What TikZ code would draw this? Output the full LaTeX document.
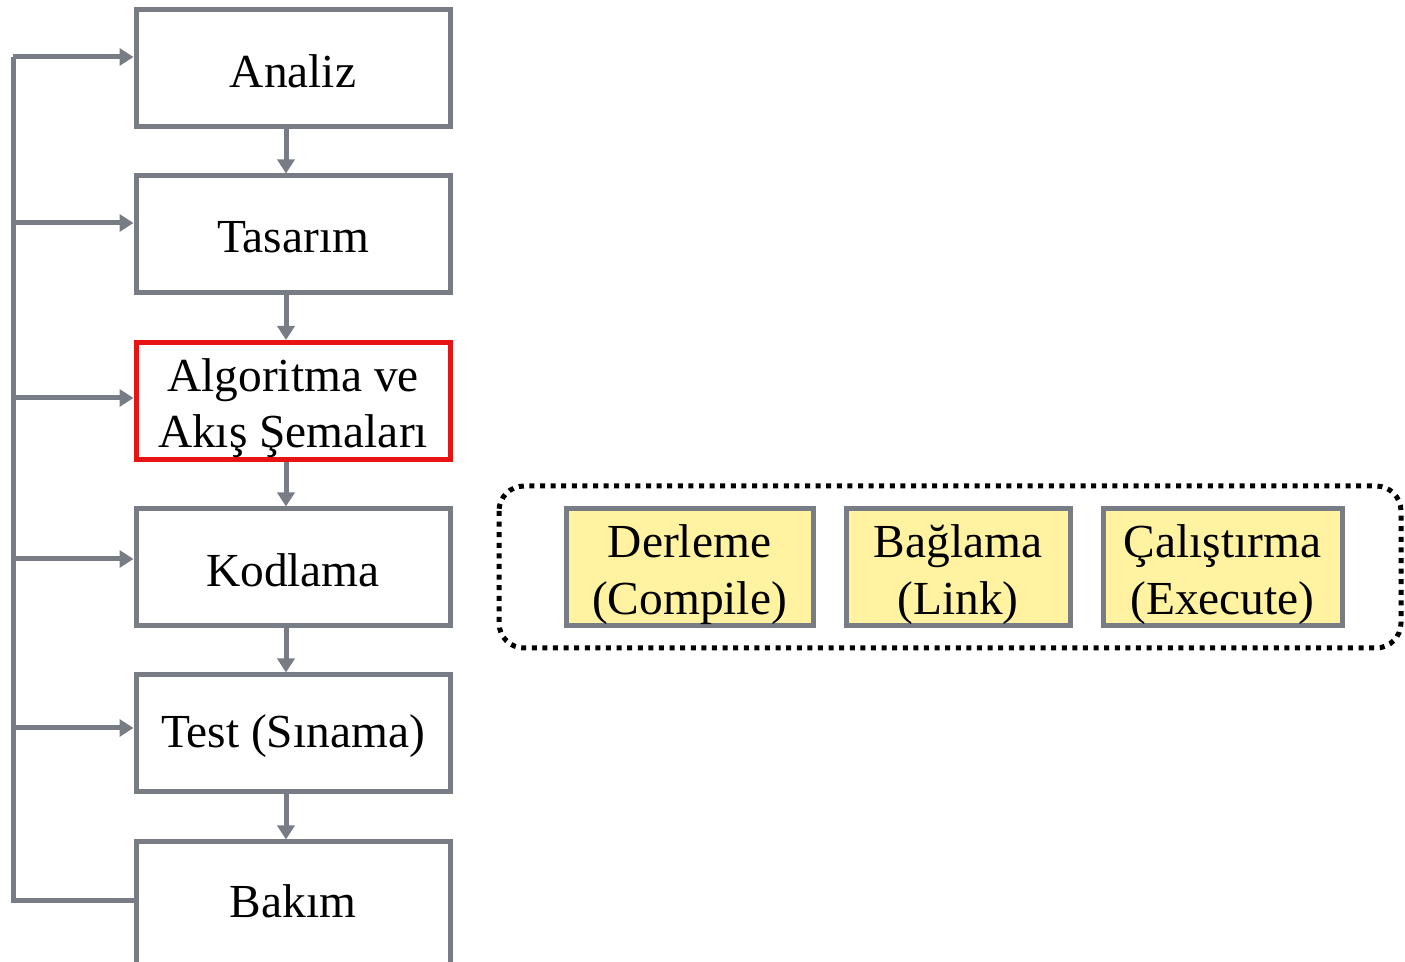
\documentclass[tikz,border=0pt]{standalone}
\usepackage{fontspec}
\setmainfont{Liberation Serif}
\usetikzlibrary{arrows.meta}
\definecolor{lgray}{RGB}{120,124,132}
\definecolor{lyellow}{RGB}{255,242,160}
\definecolor{lred}{RGB}{232,20,20}
\tikzset{
  stepbox/.style={draw=lgray, line width=2.5pt, fill=white, minimum width=157pt, minimum height=58.5pt, inner sep=0pt},
  ybox/.style={draw=lgray, line width=2.5pt, fill=lyellow, minimum height=58.5pt, inner sep=0pt},
  txt/.style={inner sep=0pt, align=center, font=\fontsize{23.7}{28.3}\selectfont},
  arr/.style={draw=lgray, line width=2.5pt, -{Triangle[length=7pt,width=8.5pt]}},
  fbline/.style={draw=lgray, line width=2.5pt}
}
\begin{document}
\begin{tikzpicture}[x=0.5pt,y=-0.5pt]
\useasboundingbox (0,0) rectangle (1405,962);
\node[stepbox] (ana) at (293,68.5) {};
\node[stepbox] (tas) at (293,234.5) {};
\node[stepbox, draw=lred] (alg) at (293,401) {};
\node[stepbox] (kod) at (293,567.5) {};
\node[stepbox] (tst) at (293,733.5) {};
\node[stepbox, minimum height=64pt] (bak) at (293,906) {};
\node[txt] (anat) at ([yshift=-1.5pt]ana.center) {Analiz};
\node[txt] (tast) at ([yshift=-1.5pt]tas.center) {Tasarım};
\node[txt] (algt) at ([yshift=-3.5pt]alg.center) {Algoritma ve\\Akış Şemaları};
\node[txt] (kodt) at ([yshift=-1.5pt]kod.center) {Kodlama};
\node[txt] (tstt) at ([yshift=-1.5pt]tst.center) {Test (Sınama)};
\node[txt] (bakt) at ([yshift=-31pt]bak.north) {Bakım};

\draw[arr] ([xshift=-3.5pt]ana.south) -- ([xshift=-3.5pt]tas.north);
\draw[arr] ([xshift=-3.5pt]tas.south) -- ([xshift=-3.5pt]alg.north);
\draw[arr] ([xshift=-3.5pt]alg.south) -- ([xshift=-3.5pt]kod.north);
\draw[arr] ([xshift=-3.5pt]kod.south) -- ([xshift=-3.5pt]tst.north);
\draw[arr] ([xshift=-3.5pt]tst.south) -- ([xshift=-3.5pt]bak.north);

\coordinate (l1) at (13,57);
\coordinate (l2) at (13,223);
\coordinate (l3) at (13,398);
\coordinate (l4) at (13,559);
\coordinate (l5) at (13,728);
\coordinate (l6) at (13,901);
\draw[fbline, line join=miter] (l6 -| bak.west) -- (l6) -- (l1);
\draw[arr] (l1) -- (l1 -| ana.west);
\draw[arr] (l2) -- (l2 -| tas.west);
\draw[arr] (l3) -- (l3 -| alg.west);
\draw[arr] (l4) -- (l4 -| kod.west);
\draw[arr] (l5) -- (l5 -| tst.west);

\draw[black, line width=2.5pt, dash pattern=on 2.5pt off 2.8pt, rounded corners=12.5pt] (499,486) rectangle (1401,648);
\node[ybox, minimum width=123.5pt] (der) at (689.5,567.5) {};
\node[ybox, minimum width=112pt] (bag) at (958,567.5) {};
\node[ybox, minimum width=119.5pt] (cal) at (1222.5,567.5) {};
\node[txt] (dert) at ([yshift=-3.5pt]der.center) {Derleme\\(Compile)};
\node[txt] (bagt) at ([yshift=-3.5pt]bag.center) {Bağlama\\(Link)};
\node[txt] (calt) at ([yshift=-3.5pt]cal.center) {Çalıştırma\\(Execute)};
\end{tikzpicture}
\end{document}
